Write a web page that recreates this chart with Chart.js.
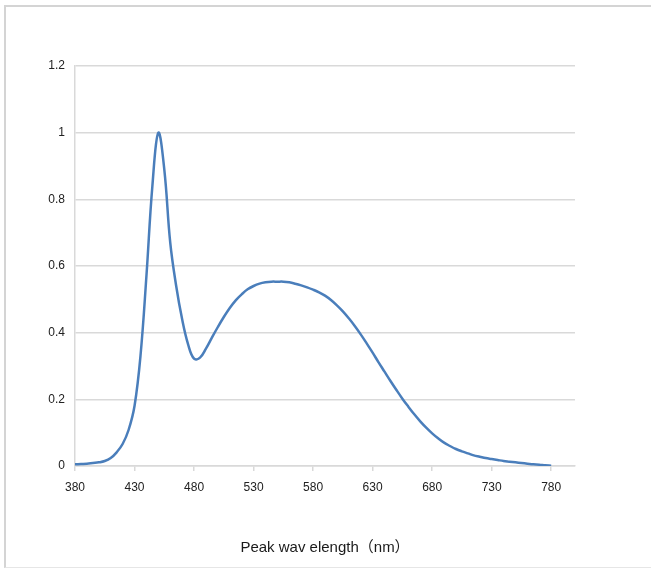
<!DOCTYPE html>
<html>
<head>
<meta charset="utf-8">
<script src="https://cdn.jsdelivr.net/npm/chart.js@4.4.1/dist/chart.umd.min.js"></script>
<style>
  body { margin: 0; background: #fff; }
  #wrap { position: relative; width: 651px; height: 569px; }
  #frame {
    position: absolute; left: 4px; top: 5px; right: -4px; bottom: 1px;
    border-left: 2px solid #d4d4d4; border-top: 2px solid #d4d4d4; border-bottom: 1px solid #e6e6e6;
  }
  canvas { position: absolute; left: 0; top: 0; }
</style>
</head>
<body>
<div id="wrap">
  <div id="frame"></div>
  <canvas id="spectrum" width="651" height="569"></canvas>
</div>
<script>
// wavelength (nm), every 5 nm
const wavelengths = [];
for (let w = 380; w <= 780; w += 5) wavelengths.push(w);

// relative intensity
const intensity = [
  0.005, 0.006, 0.007, 0.009, 0.011, 0.015, 0.024, 0.041, 0.066, 0.108,
  0.18, 0.33, 0.57, 0.84, 1.0, 0.89, 0.67, 0.54, 0.44, 0.365,
  0.322, 0.325, 0.352, 0.385, 0.417, 0.447, 0.474, 0.497, 0.515, 0.530,
  0.540, 0.547, 0.551, 0.553, 0.553, 0.553, 0.551, 0.547, 0.542, 0.536,
  0.529, 0.521, 0.511, 0.498, 0.482, 0.464, 0.443, 0.420, 0.395, 0.368,
  0.340, 0.311, 0.283, 0.255, 0.228, 0.202, 0.178, 0.155, 0.134, 0.115,
  0.098, 0.083, 0.070, 0.060, 0.051, 0.044, 0.038, 0.032, 0.028, 0.024,
  0.021, 0.018, 0.015, 0.013, 0.011, 0.009, 0.007, 0.005, 0.004, 0.002,
  0.001
];

const xTicks = [380, 430, 480, 530, 580, 630, 680, 730, 780];
const yTicks = [0, 0.2, 0.4, 0.6, 0.8, 1, 1.2];

const points = wavelengths.map((w, i) => ({ x: w, y: intensity[i] }));
const gridGray = '#d9d9d9';
const fontFamily = '"Liberation Sans", "Noto Sans CJK SC", sans-serif';

new Chart(document.getElementById('spectrum'), {
  type: 'line',
  data: {
    datasets: [{
      data: points,
      borderColor: '#4a7ebb',
      borderWidth: 2.5,
      pointRadius: 0,
      fill: false,
      tension: 0.4
    }]
  },
  options: {
    responsive: false,
    animation: false,
    devicePixelRatio: 1,
    layout: { padding: { top: 66, right: 76, bottom: 0, left: 0 } },
    plugins: { legend: { display: false }, tooltip: { enabled: false } },
    scales: {
      x: {
        type: 'linear',
        min: 380,
        max: 800,
        afterBuildTicks: (scale) => { scale.ticks = xTicks.map(v => ({ value: v })); },
        afterFit: (scale) => { scale.height = 103; },
        grid: { drawOnChartArea: false, drawTicks: true, tickLength: 5, color: gridGray, lineWidth: 1.5 },
        border: { color: gridGray, width: 1.5 },
        ticks: { color: '#222', font: { family: fontFamily, size: 12 }, padding: 9, maxRotation: 0 },
        title: {
          display: true,
          text: 'Peak wav elength（nm）',
          color: '#1a1a1a',
          font: { family: fontFamily, size: 15 },
          padding: { top: 0, bottom: 12 }
        }
      },
      y: {
        min: 0,
        max: 1.2,
        afterBuildTicks: (scale) => { scale.ticks = yTicks.map(v => ({ value: v })); },
        afterFit: (scale) => { scale.width = 75; },
        grid: { color: gridGray, lineWidth: 1.5, drawTicks: false },
        border: { color: gridGray, width: 1.5 },
        ticks: {
          color: '#222',
          font: { family: fontFamily, size: 12 },
          padding: 10,
          callback: (v) => String(Math.round(v * 10) / 10)
        }
      }
    }
  }
});
</script>
</body>
</html>
